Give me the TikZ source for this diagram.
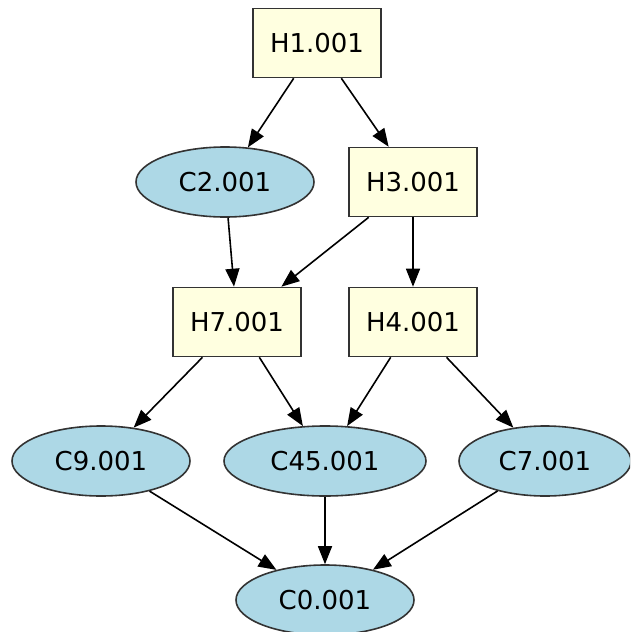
\documentclass[tikz,border=0pt]{standalone}
\usepackage{fontspec}
\setmainfont{DejaVu Sans}
\usepackage{tikz}
\usetikzlibrary{positioning, arrows.meta, shapes.geometric}
\definecolor{lightyellow}{HTML}{FFFFE0}
\definecolor{lightblue}{HTML}{ADD8E6}

\tikzset{
  hnode/.style={rectangle, draw=black!80, fill=lightyellow, line width=1.6pt,
    minimum width=128pt, minimum height=69pt, inner sep=0pt},
  cnode/.style={ellipse, draw=black!80, fill=lightblue, line width=1.6pt,
    minimum width=178pt, minimum height=70pt, inner sep=0pt}
}

\begin{document}
\begin{tikzpicture}[x=1pt, y=1pt, on grid, font=\fontsize{26}{30}\selectfont,
    >={Triangle[length=18pt, width=14pt]}, line width=1.6pt]
  \clip (0,0) rectangle (630,-632);
  \node[hnode] (h1) at (317,-43) {H1.001};
  \node[cnode] (c2) [below left=139pt and 92pt of h1] {C2.001};
  \node[hnode] (h3) [below right=139pt and 96pt of h1] {H3.001};
  \node[hnode] (h7) [below right=140pt and 12pt of c2] {H7.001};
  \node[hnode] (h4) [below=140pt of h3] {H4.001};
  \node[cnode] (c9) [below left=139pt and 136pt of h7] {C9.001};
  \node[cnode, minimum width=202pt] (c45) [below right=139pt and 88pt of h7] {C45.001};
  \node[cnode, minimum width=172pt] (c7) [below right=139pt and 132pt of h4] {C7.001};
  \node[cnode] (c0) [below=139pt of c45] {C0.001};

  \path[->]
  (h1) edge (c2)
    (h1) edge (h3)
  (c2) edge (h7)
  (h3) edge (h7)
    (h3) edge (h4)
  (h7) edge (c9)
    (h7) edge (c45)
  (h4) edge (c45)
    (h4) edge (c7)
  (c9) edge (c0)
  (c45) edge (c0)
  (c7) edge (c0);

\end{tikzpicture}
\end{document}
